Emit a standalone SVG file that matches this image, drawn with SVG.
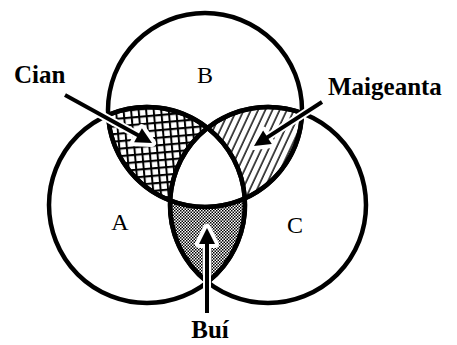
<svg xmlns="http://www.w3.org/2000/svg" width="457" height="345" viewBox="0 0 457 345">
  <style>
    .circ { fill: none; stroke: #000; stroke-width: 4.5; }
    .reg { stroke: #000; stroke-width: 4.5; stroke-linejoin: round; }
    .lbl { font-family: "Liberation Serif", "Times New Roman", serif; font-size: 24px; fill: #000; }
    .bold { font-family: "Liberation Serif", "Times New Roman", serif; font-size: 25px; font-weight: bold; fill: #000; }
    .halo { stroke: #fff; stroke-width: 8; fill: #fff; stroke-linejoin: round; }
    .shaft { stroke: #000; stroke-width: 4; fill: none; }
    .head { fill: #000; stroke: none; }
  </style>
  <defs>
    <pattern id="grid" width="7.5" height="7.5" patternUnits="userSpaceOnUse" patternTransform="rotate(-5)">
      <rect width="7.5" height="7.5" fill="#fff"/>
      <path d="M0,1 H7.5 M1,0 V7.5" stroke="#000" stroke-width="2"/>
    </pattern>
    <pattern id="diag" width="6.5" height="6.5" patternUnits="userSpaceOnUse" patternTransform="rotate(25)">
      <rect width="6.5" height="6.5" fill="#fff"/>
      <path d="M1,0 V6.5" stroke="#000" stroke-width="1.4"/>
    </pattern>
    <pattern id="dots" width="3" height="3" patternUnits="userSpaceOnUse">
      <rect width="3" height="3" fill="#fff"/>
      <rect x="0" y="0" width="1.5" height="1.5" fill="#000"/>
      <rect x="1.5" y="1.5" width="1.5" height="1.5" fill="#000"/>
    </pattern>
  </defs>
  <rect width="457" height="345" fill="#fff"/>

  <g id="regions">
    <path id="cian-region" class="reg" fill="url(#grid)" d="M108.1,115.0 A98,98 0 0 1 207.5,127.9 A98,98 0 0 0 170.1,200.5 A97,97 0 0 1 108.1,115.0 Z"/>
    <path id="maigeanta-region" class="reg" fill="url(#diag)" d="M302.0,113.1 A98,98 0 0 0 207.5,127.9 A98,98 0 0 1 244.8,198.5 A97,97 0 0 0 302.0,113.1 Z"/>
    <path id="bui-region" class="reg" fill="url(#dots)" d="M170.1,200.5 A98,98 0 0 0 207.5,282.1 A98,98 0 0 0 244.8,198.5 A97,97 0 0 1 170.1,200.5 Z"/>
  </g>

  <g id="circleA">
    <circle class="circ" cx="147" cy="205" r="98"/>
    <text class="lbl" x="120" y="230" text-anchor="middle">A</text>
  </g>
  <g id="circleB">
    <circle class="circ" cx="205" cy="110" r="97"/>
    <text class="lbl" x="205" y="83" text-anchor="middle">B</text>
  </g>
  <g id="circleC">
    <circle class="circ" cx="268" cy="205" r="98"/>
    <text class="lbl" x="295" y="233" text-anchor="middle">C</text>
  </g>

  <g id="connectors">
    <g id="arrow-cian">
      <line class="halo" x1="65" y1="95" x2="138" y2="135.3"/>
      <polygon class="halo" points="152,143 134.1,142.3 141.9,128.3"/>
      <line class="shaft" x1="65" y1="95" x2="139" y2="135.8"/>
      <polygon class="head" points="152,143 134.1,142.3 141.9,128.3"/>
    </g>
    <g id="arrow-maigeanta">
      <line class="halo" x1="322" y1="102" x2="267.4" y2="137.3"/>
      <polygon class="halo" points="254,146 271.8,144.0 263.1,130.6"/>
      <line class="shaft" x1="322" y1="102" x2="266.5" y2="137.9"/>
      <polygon class="head" points="254,146 271.8,144.0 263.1,130.6"/>
    </g>
    <g id="arrow-bui">
      <line class="halo" x1="207" y1="300" x2="207" y2="243"/>
      <polygon class="halo" points="207,228 199,244 215,244"/>
      <line class="shaft" x1="207" y1="313" x2="207" y2="242"/>
      <polygon class="head" points="207,228 199,244 215,244"/>
    </g>
  </g>

  <g id="label-cian"><text class="bold" x="14" y="83">Cian</text></g>
  <g id="label-maigeanta"><text class="bold" x="328" y="95">Maigeanta</text></g>
  <g id="label-bui"><text class="bold" x="210" y="338" text-anchor="middle">Buí</text></g>
</svg>
